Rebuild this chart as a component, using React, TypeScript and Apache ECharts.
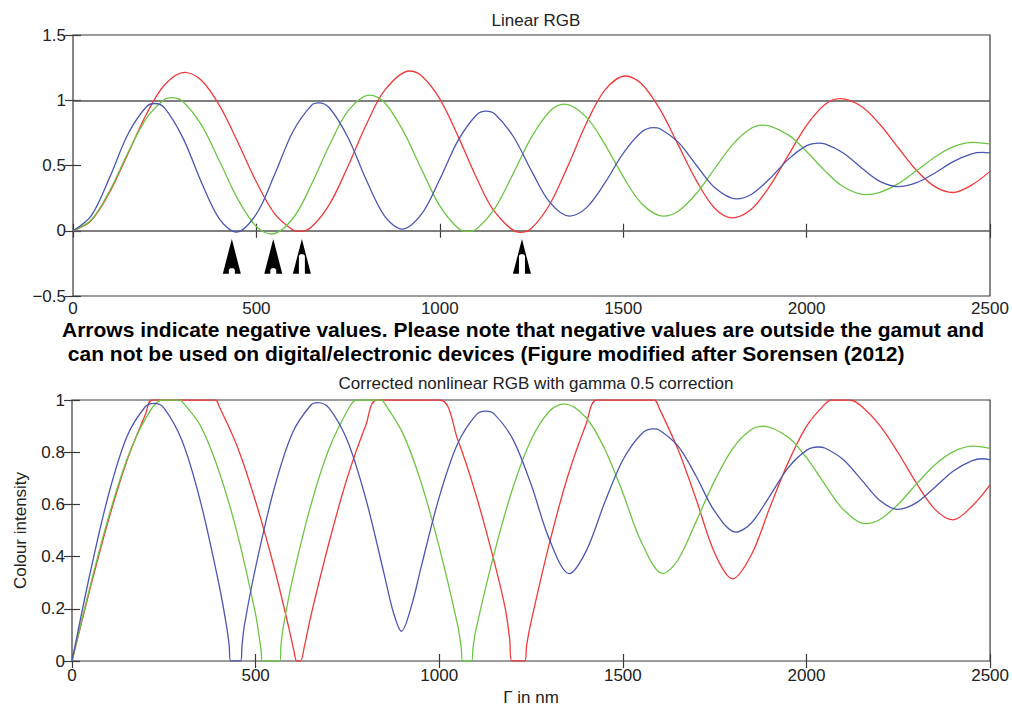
import React, { useEffect, useRef } from "react";
import * as echarts from "echarts";

// ---------- data ----------
const wavelengthMin = 0;
const wavelengthMax = 2500;
const wavelengthStep = 500;

const linearMin = -0.5;
const linearMax = 1.5;
const linearStep = 0.5;
const gammaMin = 0;
const gammaMax = 1;
const gammaStep = 0.2;

const referenceLevels = [0, 1];

// Linear RGB (top panel): [wavelength nm, intensity]
const redLinear = [[0,0],[50,0.079],[100,0.295],[150,0.591],[200,0.893],[250,1.119],[305,1.214],[350,1.153],[400,0.957],[450,0.675],[500,0.373],[550,0.130],[600,0.005],[618,-0.005],[650,0.029],[700,0.206],[750,0.496],[800,0.816],[850,1.077],[917,1.224],[950,1.188],[1000,1.011],[1050,0.723],[1100,0.406],[1150,0.144],[1220,-0.013],[1250,0.019],[1300,0.203],[1350,0.501],[1400,0.825],[1450,1.077],[1506,1.186],[1550,1.127],[1600,0.932],[1650,0.658],[1700,0.382],[1750,0.171],[1799,0.099],[1850,0.166],[1900,0.344],[1950,0.578],[2000,0.808],[2050,0.968],[2092,1.013],[2150,0.952],[2200,0.814],[2250,0.636],[2300,0.462],[2350,0.338],[2399,0.293],[2450,0.350],[2500,0.455]];
const greenLinear = [[0,0],[50,0.084],[100,0.307],[150,0.599],[200,0.861],[250,1.007],[270,1.020],[300,0.989],[350,0.811],[400,0.530],[450,0.239],[500,0.032],[541,-0.025],[600,0.096],[650,0.354],[700,0.661],[750,0.919],[809,1.040],[850,0.981],[900,0.765],[950,0.472],[1000,0.190],[1050,0.019],[1076,-0.005],[1100,0.014],[1150,0.171],[1200,0.437],[1250,0.717],[1300,0.916],[1340,0.970],[1400,0.869],[1450,0.662],[1500,0.415],[1550,0.209],[1609,0.112],[1650,0.150],[1700,0.287],[1750,0.478],[1800,0.666],[1850,0.787],[1882,0.810],[1950,0.735],[2000,0.607],[2050,0.459],[2100,0.337],[2161,0.277],[2200,0.294],[2250,0.361],[2300,0.461],[2350,0.565],[2400,0.644],[2454,0.677],[2500,0.665]];
const blueLinear = [[0,0],[50,0.116],[100,0.409],[150,0.741],[200,0.950],[223,0.975],[250,0.940],[300,0.710],[350,0.372],[400,0.087],[445,-0.010],[500,0.129],[550,0.433],[600,0.762],[650,0.961],[670,0.980],[700,0.939],[750,0.713],[800,0.387],[850,0.111],[897,0.013],[950,0.127],[1000,0.394],[1050,0.692],[1100,0.887],[1126,0.916],[1150,0.894],[1200,0.724],[1250,0.459],[1300,0.217],[1354,0.112],[1400,0.177],[1450,0.366],[1500,0.593],[1550,0.756],[1583,0.790],[1600,0.782],[1650,0.679],[1700,0.500],[1750,0.329],[1808,0.244],[1850,0.280],[1900,0.400],[1950,0.547],[2000,0.652],[2031,0.672],[2050,0.666],[2100,0.596],[2150,0.481],[2200,0.378],[2249,0.338],[2300,0.368],[2350,0.443],[2400,0.530],[2450,0.589],[2480,0.600],[2500,0.596]];

// Gamma-corrected RGB (bottom panel): [wavelength nm, intensity]
const redGamma = [[0,0],[50,0.281],[100,0.543],[150,0.769],[200,0.945],[219,1],[391,1],[400,0.978],[450,0.822],[500,0.611],[550,0.361],[590,0.130],[605,0.035],[612,0],[622,0],[632,0.050],[650,0.170],[700,0.454],[750,0.704],[800,0.903],[831,1],[1002,1],[1050,0.850],[1100,0.637],[1150,0.379],[1180,0.200],[1192,0.080],[1197,0],[1233,0],[1238,0.060],[1250,0.150],[1300,0.451],[1350,0.708],[1400,0.908],[1430,1],[1585,1],[1600,0.965],[1650,0.811],[1700,0.618],[1750,0.414],[1799,0.315],[1850,0.407],[1900,0.587],[1950,0.760],[2000,0.899],[2050,0.984],[2068,1],[2118,1],[2150,0.976],[2200,0.902],[2250,0.797],[2300,0.680],[2350,0.581],[2399,0.541],[2450,0.592],[2500,0.675]];
const greenGamma = [[0,0],[50,0.290],[100,0.554],[150,0.774],[200,0.928],[246,1],[294,1],[300,0.994],[350,0.901],[400,0.728],[450,0.489],[500,0.179],[510,0.090],[515,0.040],[518,0],[566,0],[569,0.060],[575,0.128],[600,0.310],[650,0.595],[700,0.813],[750,0.959],[775,1],[843,1],[850,0.990],[900,0.875],[950,0.687],[1000,0.436],[1050,0.138],[1060,0.050],[1064,0],[1088,0],[1092,0.050],[1100,0.120],[1150,0.414],[1200,0.661],[1250,0.847],[1300,0.957],[1340,0.985],[1400,0.932],[1450,0.814],[1500,0.644],[1550,0.457],[1609,0.335],[1650,0.387],[1700,0.536],[1750,0.691],[1800,0.816],[1850,0.887],[1882,0.900],[1950,0.857],[2000,0.779],[2050,0.677],[2100,0.581],[2161,0.526],[2200,0.542],[2250,0.601],[2300,0.679],[2350,0.752],[2400,0.802],[2454,0.823],[2500,0.815]];
const blueGamma = [[0,0],[50,0.341],[100,0.640],[150,0.861],[200,0.975],[223,0.987],[250,0.970],[300,0.843],[350,0.610],[400,0.295],[420,0.141],[428,0.060],[432,0],[459,0],[463,0.060],[470,0.141],[500,0.359],[550,0.658],[600,0.873],[650,0.980],[670,0.990],[700,0.969],[750,0.844],[800,0.622],[850,0.333],[875,0.187],[897,0.114],[925,0.214],[950,0.356],[1000,0.628],[1050,0.832],[1100,0.942],[1126,0.957],[1150,0.946],[1200,0.851],[1250,0.677],[1300,0.466],[1354,0.335],[1400,0.421],[1450,0.605],[1500,0.770],[1550,0.869],[1583,0.889],[1600,0.884],[1650,0.824],[1700,0.707],[1750,0.574],[1808,0.494],[1850,0.529],[1900,0.632],[1950,0.740],[2000,0.807],[2031,0.820],[2050,0.816],[2100,0.772],[2150,0.694],[2200,0.615],[2249,0.581],[2300,0.607],[2350,0.666],[2400,0.728],[2450,0.767],[2480,0.775],[2500,0.771]];

// Arrows marking negative values in the linear panel
const arrowWavelengths = [433, 546, 624, 1224];
const arrowKinds = ["solid", "solid", "split", "split"];
const arrowTipValue = -0.063;
const arrowBaseValue = -0.33;

// Texts
const topTitle = "Linear RGB";
const bottomTitle = "Corrected nonlinear RGB with gamma 0.5 correction";
const noteLine1 = "Arrows indicate negative values. Please note that negative values are outside the gamut and";
const noteLine2 = " can not be used on digital/electronic devices (Figure modified after Sorensen (2012)";
const yAxisTitle = "Colour intensity";
const xAxisTitle = "\u0393 in nm";

// ---------- styling ----------
const FONT = "'Liberation Sans', Arial, Helvetica, sans-serif";
const RED = "#f03a3a";
const GREEN = "#6cc644";
const BLUE = "#4b57b0";
const FRAME = "#3a3a3a";
const TEXT = "#222";
const TICK_FONT = 17;

function fmtTick(v: number): string {
  const r = Math.round(Math.abs(v) * 10) / 10;
  return (v < 0 ? "\u2212" : "") + String(r);
}

function xAxes(gridIndex: number, showLabels: boolean, labelMargin: number, name?: string) {
  const common = {
    gridIndex,
    type: "value" as const,
    min: wavelengthMin,
    max: wavelengthMax,
    interval: wavelengthStep,
    axisLine: { show: false },
    splitLine: { show: false },
    axisTick: { inside: true, length: 7, lineStyle: { color: FRAME, width: 1.2 } },
  };
  return [
    {
      ...common,
      position: "bottom",
      axisLabel: { show: showLabels, fontSize: TICK_FONT, lineHeight: 16, color: TEXT, margin: labelMargin, fontFamily: FONT, formatter: (v: number) => String(v) },
      name,
      nameLocation: "middle",
      nameGap: 28,
      nameTextStyle: { fontSize: TICK_FONT, color: TEXT, fontFamily: FONT },
    },
    { ...common, position: "top", axisLabel: { show: false } },
  ];
}

function yAxes(gridIndex: number, min: number, max: number, step: number, name?: string) {
  const common = {
    gridIndex,
    type: "value" as const,
    min,
    max,
    interval: step,
    axisLine: { show: false },
    splitLine: { show: false },
    axisTick: { inside: true, length: 8, lineStyle: { color: FRAME, width: 1.2 } },
  };
  return [
    {
      ...common,
      position: "left",
      axisLabel: { fontSize: TICK_FONT, color: TEXT, margin: 7, fontFamily: FONT, formatter: (v: number) => fmtTick(v) },
      name,
      nameLocation: "middle",
      nameGap: 43,
      nameTextStyle: { fontSize: TICK_FONT, color: TEXT, fontFamily: FONT },
    },
    { ...common, position: "right", axisLabel: { show: false } },
  ];
}

function lineSeries(data: number[][], color: string, xi: number, yi: number, extra: any = {}) {
  return {
    type: "line",
    xAxisIndex: xi,
    yAxisIndex: yi,
    data,
    smooth: 0.33,
    showSymbol: false,
    symbol: "none",
    lineStyle: { color, width: 1.3 },
    silent: true,
    ...extra,
  };
}

export default function App() {
  const ref = useRef<HTMLDivElement>(null);

  useEffect(() => {
    if (!ref.current) return;
    const chart = echarts.init(ref.current, undefined, { renderer: "svg" });

    const option: any = {
      animation: false,
      backgroundColor: "#ffffff",
      textStyle: { fontFamily: FONT },
      grid: [
        { left: 73, top: 35, width: 917, height: 261, show: true, borderColor: FRAME, borderWidth: 1.2, backgroundColor: "transparent" },
        { left: 72, top: 400, width: 919, height: 261, show: true, borderColor: FRAME, borderWidth: 1.2, backgroundColor: "transparent" },
      ],
      xAxis: [...xAxes(0, true, 4), ...xAxes(1, true, 6, xAxisTitle)],
      yAxis: [
        ...yAxes(0, linearMin, linearMax, linearStep),
        ...yAxes(1, gammaMin, gammaMax, gammaStep, yAxisTitle),
      ],
      series: [
        lineSeries(redLinear, RED, 0, 0, {
          markLine: {
            silent: true,
            symbol: "none",
            label: { show: false },
            lineStyle: { color: "#555", width: 1.6, type: "solid" },
            data: referenceLevels.map((v) => ({ yAxis: v })),
            z: 1,
          },
        }),
        lineSeries(greenLinear, GREEN, 0, 0),
        lineSeries(blueLinear, BLUE, 0, 0),
        lineSeries(redGamma, RED, 2, 2),
        lineSeries(greenGamma, GREEN, 2, 2),
        lineSeries(blueGamma, BLUE, 2, 2),
        {
          type: "custom",
          xAxisIndex: 0,
          yAxisIndex: 0,
          silent: true,
          clip: false,
          z: 5,
          data: arrowWavelengths.map((x, i) => [x, arrowKinds[i] === "split" ? 1 : 0]),
          renderItem: (_params: any, api: any) => {
            const x = api.value(0);
            const split = api.value(1) === 1;
            const tip = api.coord([x, arrowTipValue]);
            const base = api.coord([x, arrowBaseValue]);
            const cx = tip[0];
            const ty = tip[1];
            const by = base[1];
            const hw = 9;
            const nw = 3;
            const nh = split ? (by - ty) * 0.52 : 4;
            return {
              type: "polygon",
              shape: {
                points: [
                  [cx, ty],
                  [cx + hw, by],
                  [cx + nw, by],
                  [cx + nw, by - nh],
                  [cx + nw * 0.5, by - nh - 1.5],
                  [cx - nw * 0.5, by - nh - 1.5],
                  [cx - nw, by - nh],
                  [cx - nw, by],
                  [cx - hw, by],
                ],
              },
              style: { fill: "#000" },
            };
          },
        },
      ],
      title: [
        { text: topTitle, left: 531, top: 7, textAlign: "center", textStyle: { fontSize: 17, fontWeight: "normal", color: TEXT, fontFamily: FONT } },
        { text: bottomTitle, left: 531, top: 370, textAlign: "center", textStyle: { fontSize: 17, fontWeight: "normal", color: TEXT, fontFamily: FONT } },
      ],
      graphic: [
        { type: "text", left: 62, top: 319, style: { text: noteLine1, font: `bold 21px ${FONT}`, fill: "#000" } },
        { type: "text", left: 62, top: 343, style: { text: noteLine2, font: `bold 21px ${FONT}`, fill: "#000" } },
      ],
    };

    chart.setOption(option);
    return () => chart.dispose();
  }, []);

  return (
    <div
      ref={ref}
      style={{ position: "fixed", left: 0, top: 0, width: 1012, height: 707, background: "#fff" }}
    />
  );
}
